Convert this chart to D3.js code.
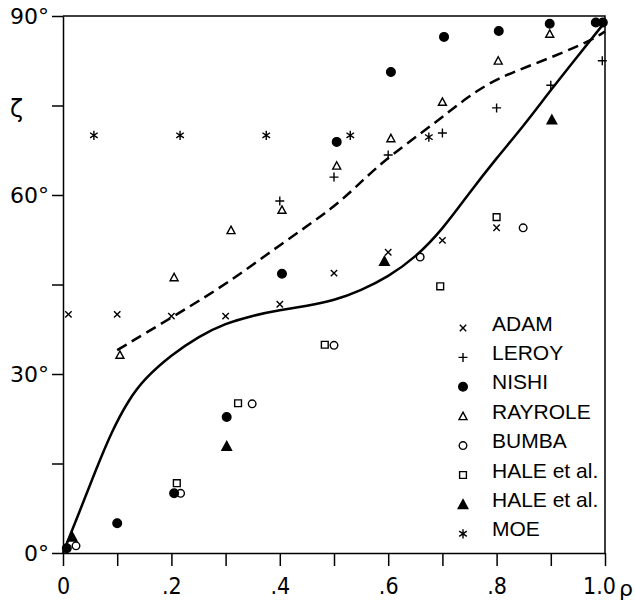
<!DOCTYPE html>
<html>
<head>
<meta charset="utf-8">
<script src="https://cdn.jsdelivr.net/npm/d3@7"></script>
<style>
  body { margin: 0; background: #fff; }
  svg { display: block; }
</style>
</head>
<body>
<svg></svg>
<script>
// measured points, [rho, zeta in degrees]
var adam = [[0.01, 40], [0.1, 40], [0.2, 39.7], [0.3, 39.7], [0.4, 41.7], [0.5, 46.9], [0.6, 50.4], [0.7, 52.4], [0.8, 54.5]];
var leroy = [[0.4, 59], [0.5, 63], [0.6, 66.7], [0.7, 70.4], [0.8, 74.6], [0.9, 78.4], [0.995, 82.5]];
var nishi = [[0.007, 0.8], [0.1, 5], [0.205, 10], [0.302, 22.8], [0.404, 46.8], [0.505, 68.9], [0.605, 80.6], [0.703, 86.5], [0.804, 87.5], [0.898, 88.7], [0.983, 88.9], [0.996, 88.9]];
var rayrole = [[0.105, 33.2], [0.205, 46.2], [0.31, 54.1], [0.404, 57.5], [0.505, 64.9], [0.605, 69.5], [0.7, 75.6], [0.803, 82.5], [0.898, 87]];
var bumba = [[0.024, 1.2], [0.217, 10], [0.349, 25], [0.5, 34.8], [0.659, 49.6], [0.849, 54.5]];
var haleOpen = [[0.21, 11.7], [0.323, 25.1], [0.483, 34.9], [0.696, 44.7], [0.8, 56.3]];
var haleFilled = [[0.017, 2.7], [0.302, 17.9], [0.593, 48.9], [0.902, 72.6]];
var moe = [[0.057, 70], [0.216, 70], [0.375, 70], [0.53, 70], [0.675, 69.7]];

// the two drawn curves
var solidCurve = [[0, 0], [0.03, 6.8], [0.06, 13.8], [0.09, 20.4], [0.12, 25.5], [0.15, 29.2], [0.2, 33.2], [0.25, 36.3], [0.3, 38.5], [0.35, 39.8], [0.4, 40.7], [0.45, 41.4], [0.5, 42.3], [0.55, 44], [0.6, 46.3], [0.65, 49.5], [0.7, 54.2], [0.75, 60.4], [0.8, 66.2], [0.85, 71.6], [0.9, 77.6], [0.95, 83.3], [1.0, 89]];
var dashedCurve = [[0.1, 34], [0.203, 39.6], [0.304, 45.2], [0.404, 51.9], [0.502, 58], [0.553, 62.5], [0.605, 66.7], [0.677, 71.4], [0.751, 76.8], [0.803, 79.6], [0.865, 81.8], [0.926, 84], [0.976, 86], [1.0, 87.4]];

var seriesNames = ["ADAM", "LEROY", "NISHI", "RAYROLE", "BUMBA", "HALE et al.", "HALE et al.", "MOE"];
var seriesMarks = ["x", "plus", "dot", "tri", "circle", "square", "triFill", "star"];
var seriesData = [adam, leroy, nishi, rayrole, bumba, haleOpen, haleFilled, moe];

var xTicks = [0, 0.1, 0.2, 0.3, 0.4, 0.5, 0.6, 0.7, 0.8, 0.9, 1.0];
var xTickLabels = { 0: "0", 0.2: ".2", 0.4: ".4", 0.6: ".6", 0.8: ".8", 1: "1.0" };
var yTicks = [0, 15, 30, 45, 60, 75, 90];
var yTickLabels = { 0: "0°", 30: "30°", 60: "60°", 90: "90°" };

var svgWidth = 635, svgHeight = 606;
var margin = { top: 16, right: 30, bottom: 53, left: 63 };

var svg = d3.select("svg")
  .attr("width", svgWidth)
  .attr("height", svgHeight);

var x = d3.scaleLinear().domain([0, 1]).range([margin.left, svgWidth - margin.right]);
var y = d3.scaleLinear().domain([0, 90]).range([svgHeight - margin.bottom, margin.top]);

// marker shapes, centred on 0,0
function markPath(type) {
  var p = d3.path();
  if (type === "x") {
    p.moveTo(-3.2, -3.2); p.lineTo(3.2, 3.2);
    p.moveTo(-3.2, 3.2); p.lineTo(3.2, -3.2);
  } else if (type === "plus") {
    p.moveTo(-4.5, 0); p.lineTo(4.5, 0);
    p.moveTo(0, -4.5); p.lineTo(0, 4.5);
  } else if (type === "star") {
    p.moveTo(0, -4.6); p.lineTo(0, 4.6);
    p.moveTo(-3.8, -2.6); p.lineTo(3.8, 2.6);
    p.moveTo(-3.8, 2.6); p.lineTo(3.8, -2.6);
  } else if (type === "tri" || type === "triFill") {
    var s = type === "tri" ? 4 : 4.8;
    p.moveTo(0, -s); p.lineTo(s, s * 0.85); p.lineTo(-s, s * 0.85); p.closePath();
  } else if (type === "square") {
    p.rect(-3.4, -3.4, 6.8, 6.8);
  } else {
    var r = type === "dot" ? 4.3 : 3.8;
    p.moveTo(r, 0); p.arc(0, 0, r, 0, 2 * Math.PI);
  }
  return p.toString();
}

function markFill(type) {
  return (type === "dot" || type === "triFill") ? "#000" : "none";
}

// frame
svg.append("path")
  .attr("d", "M" + x(0) + "," + y(90) + "H" + x(1) + "V" + y(0))
  .attr("fill", "none")
  .attr("stroke", "#000")
  .attr("stroke-width", 1.5);

var xAxis = svg.append("g")
  .attr("transform", "translate(0," + y(0) + ")")
  .call(d3.axisBottom(x)
    .tickValues(xTicks)
    .tickSize(13)
    .tickSizeOuter(0)
    .tickPadding(12)
    .tickFormat(function (d) { return xTickLabels[Math.round(d * 10) / 10] || ""; }));

xAxis.selectAll("path, line").attr("stroke", "#000").attr("stroke-width", 1.5);
xAxis.selectAll("text")
  .attr("fill", "#000")
  .style("font-family", "'Liberation Sans Narrow', 'DejaVu Sans Condensed', 'Liberation Sans', sans-serif")
  .style("font-size", "23px");
xAxis.selectAll(".tick").filter(function (d) { return d === 1; })
  .select("text").attr("dx", -6);

var yAxis = svg.append("g")
  .attr("transform", "translate(" + x(0) + ",0)")
  .call(d3.axisLeft(y)
    .tickValues(yTicks)
    .tickSize(11)
    .tickSizeOuter(0)
    .tickPadding(3)
    .tickFormat(function (d) { return yTickLabels[d] || ""; }));

yAxis.selectAll("path, line").attr("stroke", "#000").attr("stroke-width", 1.5);
yAxis.selectAll("text")
  .attr("fill", "#000")
  .style("font-family", "'DejaVu Sans', sans-serif")
  .style("font-size", "22px");

// axis symbols
svg.append("text")
  .attr("x", 619)
  .attr("y", 596)
  .style("font-family", "'DejaVu Sans', sans-serif")
  .style("font-size", "22px")
  .text("ρ");

svg.append("text")
  .attr("x", 10)
  .attr("y", 117)
  .style("font-family", "'DejaVu Sans', sans-serif")
  .style("font-size", "24px")
  .text("ζ");

var line = d3.line()
  .x(function (d) { return x(d[0]); })
  .y(function (d) { return y(d[1]); })
  .curve(d3.curveBasis);

svg.append("path")
  .datum(solidCurve)
  .attr("fill", "none")
  .attr("stroke", "#000")
  .attr("stroke-width", 2.5)
  .attr("d", line);

svg.append("path")
  .datum(dashedCurve)
  .attr("fill", "none")
  .attr("stroke", "#000")
  .attr("stroke-width", 2.5)
  .attr("stroke-dasharray", "11,6")
  .attr("d", line);

// data markers
seriesData.forEach(function (data, i) {
  var type = seriesMarks[i];
  svg.append("g").selectAll("path")
    .data(data)
    .enter()
    .append("path")
    .attr("transform", function (d) { return "translate(" + x(d[0]) + "," + y(d[1]) + ")"; })
    .attr("d", markPath(type))
    .attr("fill", markFill(type))
    .attr("stroke", "#000")
    .attr("stroke-width", 1.4);
});

// legend
var legend = svg.append("g")
  .selectAll("g")
  .data(seriesNames)
  .enter()
  .append("g")
  .attr("transform", function (d, i) { return "translate(463," + (323 + i * 29.4) + ")"; });

legend.append("path")
  .attr("transform", "translate(0,5)")
  .attr("d", function (d, i) { return markPath(seriesMarks[i]); })
  .attr("fill", function (d, i) { return markFill(seriesMarks[i]); })
  .attr("stroke", "#000")
  .attr("stroke-width", 1.4);

legend.append("text")
  .attr("x", 29)
  .attr("dy", "0.36em")
  .style("font-family", "'Liberation Sans', sans-serif")
  .style("font-size", "21px")
  .text(function (d) { return d; });
</script>
</body>
</html>
